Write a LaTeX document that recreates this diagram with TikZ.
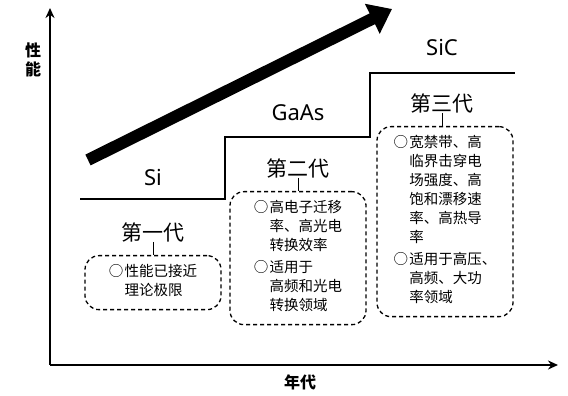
\documentclass[tikz,border=0pt]{standalone}
\usepackage{fontspec}
\setmainfont{Noto Sans CJK SC}
\newfontfamily\latinfont{Noto Sans}
\usetikzlibrary{arrows.meta}
\newcommand{\bitem}[1]{\makebox[1.1em][l]{○}\begin{tabular}[t]{@{}l@{}}#1\end{tabular}}
\tikzset{
  axisline/.style={line width=1.8pt, -{Stealth[length=10pt,width=9pt]}},
  stairline/.style={line width=1.6pt},
  bigarrow/.style={line width=12pt, -{Triangle[length=22pt,width=32pt]}},
  genlabel/.style={font=\fontsize{21}{21}\selectfont, inner sep=0pt},
  matlabel/.style={font=\latinfont\fontsize{22}{22}\selectfont, inner sep=0pt},
  axislabel/.style={font=\bfseries\fontsize{16}{19}\selectfont, inner sep=0pt, align=center},
  infobox/.style={draw, dash pattern=on 4pt off 3pt, line width=1.3pt, rounded corners=14pt,
    anchor=north, minimum width=136pt, inner xsep=8pt, inner ysep=8pt, align=left,
    font=\fontsize{14.5}{19}\selectfont},
  linkline/.style={line width=1pt}
}
\begin{document}
\begin{tikzpicture}[x=1pt,y=1pt]
\useasboundingbox (0,0) rectangle (568,396);
% axes
\coordinate (origin) at (50,31);
\coordinate (ytop) at (50,388);
\coordinate (xend) at (558,31);
\draw[axisline] (origin) -- (ytop);
\draw[axisline] (origin) -- (xend);
\node[axislabel] (perf) at (33,336) {性\\能};
\node[axislabel] (years) at (300,14) {年代};
% big arrow
\coordinate (arrowtail) at (88,236);
\coordinate (arrowhead) at (392,387);
\draw[bigarrow] (arrowtail) -- (arrowhead);
% stairs
\coordinate (s0) at (80,197);
\coordinate (s1) at (225,197);
\coordinate (s2) at (225,259);
\coordinate (s3) at (370,259);
\coordinate (s4) at (370,323);
\coordinate (s5) at (515,323);
\draw[stairline] (s0) -- (s1) -- (s2) -- (s3) -- (s4) -- (s5);
% materials
\node[matlabel] (si) at (153,218) {Si};
\node[matlabel] (gaas) at (298,283) {GaAs};
\node[matlabel] (sic) at (442,348) {SiC};
% generations
\node[genlabel] (g1) at (153,164) {第一代};
\node[genlabel] (g2) at (298,228) {第二代};
\node[genlabel] (g3) at (442,293) {第三代};
% info boxes
\node[infobox] (box1) at (153,141) {\bitem{性能已接近\\理论极限}};
\node[infobox] (box2) at (298,205) {\bitem{高电子迁移\\率、高光电\\转换效率}\\[2pt]\bitem{适用于\\高频和光电\\转换领域}};
\node[infobox] (box3) at (445,270) {\bitem{宽禁带、高\\临界击穿电\\场强度、高\\饱和漂移速\\率、高热导\\率}\\[2pt]\bitem{适用于高压、\\高频、大功\\率领域}};
\draw[linkline] (g1.south) -- (box1.north);
\draw[linkline] (g2.south) -- (box2.north);
\draw[linkline] (g3.south) -- (g3.south |- box3.north);
\end{tikzpicture}
\end{document}
